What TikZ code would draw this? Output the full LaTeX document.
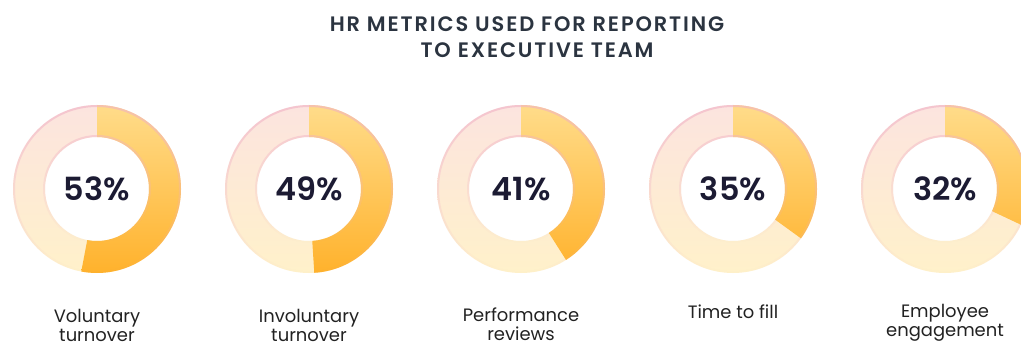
\documentclass[tikz,border=0pt]{standalone}
\usepackage{fontspec}
\setmainfont{Poppins}
\newfontfamily\titlefont{Poppins SemiBold}[LetterSpace=9]
\newfontfamily\numfont{Poppins SemiBold}
\usetikzlibrary{fadings}
\definecolor{bgTop}{HTML}{FCE4DF}
\definecolor{bgBot}{HTML}{FFF1CA}
\definecolor{arcTop}{HTML}{FFDC8A}
\definecolor{arcBot}{HTML}{FFB22C}
\definecolor{rimPink}{HTML}{F0B0C4}
\definecolor{numCol}{HTML}{1C1B33}
\definecolor{titleCol}{HTML}{2B3440}
\definecolor{labCol}{HTML}{222222}
\tikzset{
  titletext/.style={inner sep=0pt, text=titleCol, font=\titlefont\fontsize{21}{24}\selectfont},
  pcttext/.style={inner sep=0pt, text=numCol, font=\numfont\fontsize{32}{32}\selectfont},
  labtext/.style={inner sep=0pt, text=labCol, align=center, font=\fontsize{18}{19}\selectfont},
}
\begin{document}
\begin{tikzpicture}[x=1bp,y=1bp]
\useasboundingbox (0,0) rectangle (1021,347);
\fill[white] (0,0) rectangle (1021,347);
\node[titletext] (t1) at (527,323) {HR METRICS USED FOR REPORTING};
\node[titletext] (t2) at (537,297) {TO EXECUTIVE TEAM};
\foreach \n/\cx/\p/\ly/\lab in {a/97/53/22/{Voluntary\\turnover}, b/309/49/22/{Involuntary\\turnover}, c/521/41/23/{Performance\\reviews}, d/733/35/35/{Time to fill}, e/945/32/24/{Employee\\engagement}}{
  \coordinate (c\n) at (\cx,158);
  \pgfmathsetmacro\e{90-3.6*\p}
  \shade[top color=bgTop, bottom color=bgBot, even odd rule] (c\n) circle[radius=84] (c\n) circle[radius=52];
  \begin{scope}
    \clip ([shift={(90:84)}]c\n) arc[start angle=90, end angle=\e, radius=84] -- ([shift={(\e:52)}]c\n) arc[start angle=\e, end angle=90, radius=52] -- cycle;
    \shade[top color=arcTop, bottom color=arcBot] (c\n) circle[radius=84];
  \end{scope}
  \fill[rimPink, path fading=south, even odd rule, opacity=0.6] (c\n) circle[radius=84] (c\n) circle[radius=82];
  \fill[rimPink, path fading=south, even odd rule, opacity=0.45] (c\n) circle[radius=54] (c\n) circle[radius=52];
  \node[pcttext] (p\n) at (c\n) {\p\%};
  \node[labtext] (l\n) at (\cx,\ly) {\lab};
}
\end{tikzpicture}
\end{document}
